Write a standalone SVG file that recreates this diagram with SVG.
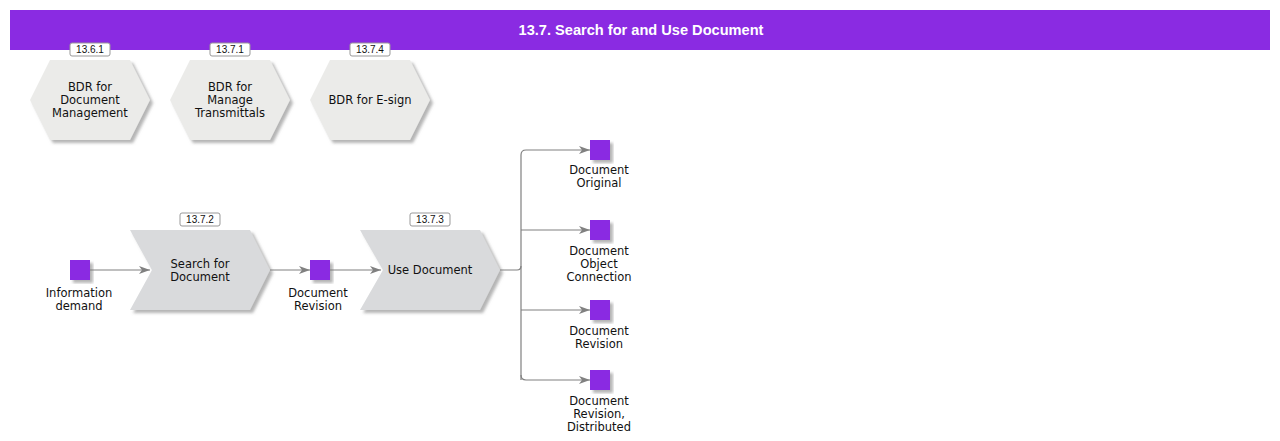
<svg xmlns="http://www.w3.org/2000/svg" width="1280" height="441" viewBox="0 0 1280 441">
<defs>
<filter id="sh" x="-20%" y="-20%" width="140%" height="140%">
<feDropShadow dx="3" dy="3" stdDeviation="1.5" flood-color="#777" flood-opacity="0.55"/>
</filter>
<marker id="arr" markerWidth="12" markerHeight="10" refX="11" refY="5" orient="auto" markerUnits="userSpaceOnUse">
<path d="M0,1 L11,5 L0,9 L3,5 Z" fill="#808080"/>
</marker>
</defs>
<style>
.t{font-family:"DejaVu Sans",Verdana,sans-serif;font-size:11.5px;fill:#111;text-anchor:middle}
.hex{fill:#ebebe9;filter:url(#sh)}
.chev{fill:#d9dadc;filter:url(#sh)}
.sq{fill:#8a2be2;filter:url(#sh)}
.tag rect{fill:#fff;stroke:#999;stroke-width:1}
.tag text{font-family:"Liberation Sans",Arial,sans-serif;font-size:10px;fill:#111;text-anchor:middle}
.c{fill:none;stroke:#808080;stroke-width:1.2}
</style>
<rect x="10" y="10" width="1260" height="40" fill="#8a2be2"/>
<text x="641" y="35" font-family="Liberation Sans,Arial,sans-serif" font-weight="bold" font-size="14.6" fill="#fff" text-anchor="middle">13.7. Search for and Use Document</text>

<g id="connectors">
<path class="c" d="M90,270 H150" marker-end="url(#arr)"/>
<path class="c" d="M270,270 H310" marker-end="url(#arr)"/>
<path class="c" d="M330,270 H381" marker-end="url(#arr)"/>
<path class="c" d="M500,270 H517 Q521,270 521,266"/>
<path class="c" d="M521,380 V155 Q521,150 526,150 H590" marker-end="url(#arr)"/>
<path class="c" d="M521,230 H590" marker-end="url(#arr)"/>
<path class="c" d="M521,310 H590" marker-end="url(#arr)"/>
<path class="c" d="M521,375 Q521,380 526,380 H590" marker-end="url(#arr)"/>
</g>

<g id="n1361">
<polygon class="hex" points="30,100 50,60 130,60 150,100 130,140 50,140"/>
<g class="tag"><rect x="70" y="43" width="40" height="13" rx="2"/><text x="90" y="53">13.6.1</text></g>
<text class="t" x="90" y="91">BDR for</text><text class="t" x="90" y="104">Document</text><text class="t" x="90" y="117">Management</text>
</g>
<g id="n1371">
<polygon class="hex" points="170,100 190,60 270,60 290,100 270,140 190,140"/>
<g class="tag"><rect x="210" y="43" width="40" height="13" rx="2"/><text x="230" y="53">13.7.1</text></g>
<text class="t" x="230" y="91">BDR for</text><text class="t" x="230" y="104">Manage</text><text class="t" x="230" y="117">Transmittals</text>
</g>
<g id="n1374">
<polygon class="hex" points="310,100 330,60 410,60 430,100 410,140 330,140"/>
<g class="tag"><rect x="350" y="43" width="40" height="13" rx="2"/><text x="370" y="53">13.7.4</text></g>
<text class="t" x="370" y="104">BDR for E-sign</text>
</g>

<g id="infoDemand">
<rect class="sq" x="70" y="260" width="20" height="20"/>
<text class="t" x="79" y="297">Information</text><text class="t" x="79" y="310">demand</text>
</g>
<g id="search">
<polygon class="chev" points="130,230 250,230 270,270 250,310 130,310 152,270"/>
<g class="tag"><rect x="180" y="213" width="40" height="13" rx="2"/><text x="200" y="223">13.7.2</text></g>
<text class="t" x="200" y="268">Search for</text><text class="t" x="200" y="281">Document</text>
</g>
<g id="docRev1">
<rect class="sq" x="310" y="260" width="20" height="20"/>
<text class="t" x="318" y="297">Document</text><text class="t" x="318" y="310">Revision</text>
</g>
<g id="useDoc">
<polygon class="chev" points="360,230 480,230 500,270 480,310 360,310 383,270"/>
<g class="tag"><rect x="410" y="213" width="40" height="13" rx="2"/><text x="430" y="223">13.7.3</text></g>
<text class="t" x="430" y="274">Use Document</text>
</g>
<g id="docOrig">
<rect class="sq" x="590" y="140" width="20" height="20"/>
<text class="t" x="599" y="174">Document</text><text class="t" x="599" y="187">Original</text>
</g>
<g id="docObj">
<rect class="sq" x="590" y="220" width="20" height="20"/>
<text class="t" x="599" y="255">Document</text><text class="t" x="599" y="268">Object</text><text class="t" x="599" y="281">Connection</text>
</g>
<g id="docRev2">
<rect class="sq" x="590" y="300" width="20" height="20"/>
<text class="t" x="599" y="335">Document</text><text class="t" x="599" y="348">Revision</text>
</g>
<g id="docRevDist">
<rect class="sq" x="590" y="370" width="20" height="20"/>
<text class="t" x="599" y="405">Document</text><text class="t" x="599" y="418">Revision,</text><text class="t" x="599" y="431">Distributed</text>
</g>
</svg>
